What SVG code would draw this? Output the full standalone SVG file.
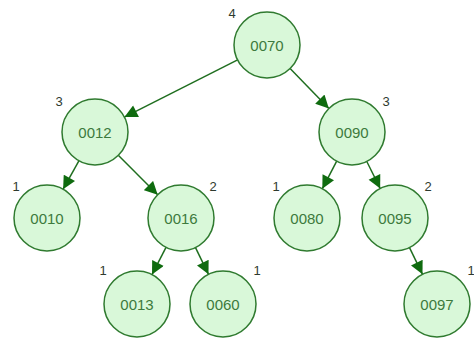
<svg xmlns="http://www.w3.org/2000/svg" width="474" height="339" viewBox="0 0 474 339">
<style>
.n{fill:#d9f8d9;stroke:#2f7a2f;stroke-width:1.5}
.t{font-family:"Liberation Sans",Arial,sans-serif;font-size:15px;fill:#3d7a3d;text-anchor:middle;dominant-baseline:central}
.h{font-family:"Liberation Sans",Arial,sans-serif;font-size:13px;fill:#2e3a2e;text-anchor:middle;dominant-baseline:central}
.e{stroke:#1f6e1f;stroke-width:1.5;fill:none;marker-end:url(#ah)}
</style>
<defs>
<marker id="ah" viewBox="0 0 10 10" refX="10" refY="5" markerUnits="userSpaceOnUse" markerWidth="14" markerHeight="13" orient="auto">
<path d="M0,0 L10,5 L0,10 z" fill="#0f6b0f"/>
</marker>
</defs>
<rect width="474" height="339" fill="#fff"/>
<g id="edges">
<line class="e" x1="237.6" y1="59.9" x2="124.4" y2="117.1"/>
<line class="e" x1="290.1" y1="68.6" x2="328.9" y2="108.4"/>
<line class="e" x1="78.9" y1="160.8" x2="63.1" y2="189.2"/>
<line class="e" x1="118.3" y1="155.3" x2="157.7" y2="194.7"/>
<line class="e" x1="336.7" y1="161.2" x2="322.3" y2="188.8"/>
<line class="e" x1="366.8" y1="161.5" x2="380.2" y2="188.5"/>
<line class="e" x1="166" y1="247.4" x2="152" y2="274.6"/>
<line class="e" x1="195.5" y1="247.7" x2="208.5" y2="274.3"/>
<line class="e" x1="409.5" y1="247.7" x2="422.5" y2="274.3"/>
</g>
<g id="n0070"><circle class="n" cx="267" cy="45" r="33"/><text class="t" x="267" y="45">0070</text><text class="h" x="232" y="13">4</text></g>
<g id="n0012"><circle class="n" cx="95" cy="132" r="33"/><text class="t" x="95" y="132">0012</text><text class="h" x="59" y="101">3</text></g>
<g id="n0090"><circle class="n" cx="352" cy="132" r="33"/><text class="t" x="352" y="132">0090</text><text class="h" x="386" y="101">3</text></g>
<g id="n0010"><circle class="n" cx="47" cy="218" r="33"/><text class="t" x="47" y="218">0010</text><text class="h" x="16" y="186">1</text></g>
<g id="n0016"><circle class="n" cx="181" cy="218" r="33"/><text class="t" x="181" y="218">0016</text><text class="h" x="213" y="186">2</text></g>
<g id="n0080"><circle class="n" cx="307" cy="218" r="33"/><text class="t" x="307" y="218">0080</text><text class="h" x="276" y="186">1</text></g>
<g id="n0095"><circle class="n" cx="395" cy="218" r="33"/><text class="t" x="395" y="218">0095</text><text class="h" x="428" y="186">2</text></g>
<g id="n0013"><circle class="n" cx="137" cy="304" r="33"/><text class="t" x="137" y="304">0013</text><text class="h" x="103" y="270">1</text></g>
<g id="n0060"><circle class="n" cx="223" cy="304" r="33"/><text class="t" x="223" y="304">0060</text><text class="h" x="257" y="270">1</text></g>
<g id="n0097"><circle class="n" cx="437" cy="304" r="33"/><text class="t" x="437" y="304">0097</text><text class="h" x="471" y="270">1</text></g>
</svg>
